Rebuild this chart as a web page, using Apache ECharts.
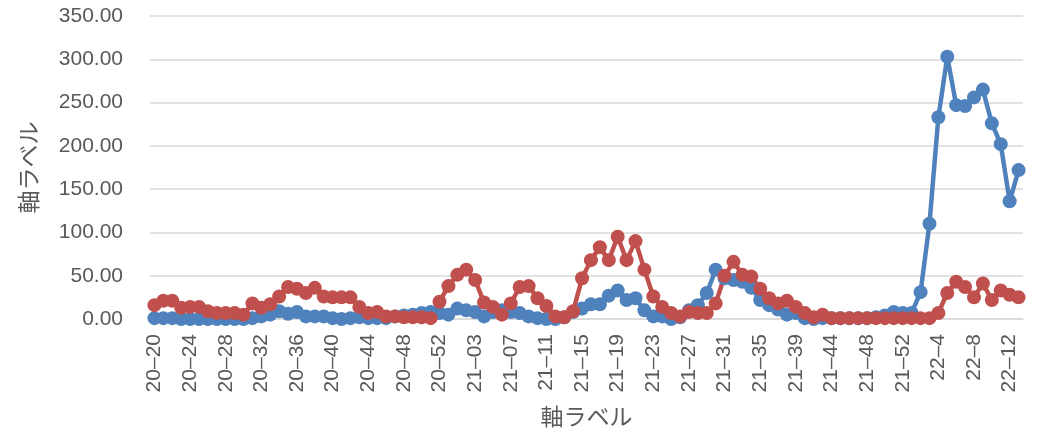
<!DOCTYPE html>
<html>
<head>
<meta charset="utf-8">
<script src="https://cdn.jsdelivr.net/npm/echarts@6/dist/echarts.min.js"></script>
<style>
html,body{margin:0;padding:0;background:#fff;}
#chart{width:1043px;height:437px;}
</style>
</head>
<body>
<div id="chart"></div>
<script>
const categories = [
  "20–20","20–21","20–22","20–23","20–24","20–25","20–26","20–27","20–28","20–29",
  "20–30","20–31","20–32","20–33","20–34","20–35","20–36","20–37","20–38","20–39",
  "20–40","20–41","20–42","20–43","20–44","20–45","20–46","20–47","20–48","20–49",
  "20–50","20–51","20–52","20–53",
  "21–01","21–02","21–03","21–04","21–05","21–06","21–07","21–08","21–09","21–10",
  "21–11","21–12","21–13","21–14","21–15","21–16","21–17","21–18","21–19","21–20",
  "21–21","21–22","21–23","21–24","21–25","21–26","21–27","21–28","21–29","21–30",
  "21–31","21–32","21–33","21–34","21–35","21–36","21–37","21–38","21–39","21–40",
  "21–41","21–43","21–44","21–45","21–46","21–47","21–48","21–49","21–50","21–51",
  "21–52",
  "22–1","22–2","22–3","22–4","22–5","22–6","22–7","22–8","22–9","22–10",
  "22–11","22–12","22–13"
];
const seriesBlue = [
  1,1,1,0,0,0,0,0,0,0,
  0,1,3,5,9,6,8,3,3,3,
  1,0,1,2,1,1,1,3,4,5,
  7,8,7,5,12,10,8,3,8,10,
  8,7,3,1,0,0,2,8,12,17,
  17,27,33,22,24,10,3,3,0,2,
  10,16,30,57,47,45,43,36,22,16,
  11,5,7,1,0,1,1,1,1,1,
  1,2,4,8,7,7,31,110,233,303,
  247,246,256,265,226,202,136,172
];
const seriesRed = [
  16,21,21,13,14,14,9,7,7,7,
  5,18,13,17,26,37,35,30,36,26,
  25,25,25,14,7,8,3,3,2,2,
  2,1,20,38,51,57,45,19,14,5,
  18,37,38,24,15,3,2,9,47,68,
  83,68,95,68,90,57,26,14,7,3,
  8,7,7,18,50,66,51,49,35,24,
  18,21,14,7,2,5,1,1,1,1,
  1,1,1,1,1,1,1,1,7,30,
  43,37,25,41,22,33,28,25
];
const yTicks = { min: 0, max: 350, interval: 50 };
const axisName = "軸ラベル";

const chart = echarts.init(document.getElementById('chart'), null, {renderer:'canvas'});
const font = "'Liberation Sans', 'Noto Sans CJK JP', sans-serif";
chart.setOption({
  animation: false,
  backgroundColor: '#fff',
  grid: { left: 150, right: 20, top: 16, bottom: 118, containLabel: false },
  xAxis: {
    type: 'category',
    data: categories,
    boundaryGap: true,
    name: axisName,
    nameLocation: 'middle',
    nameGap: 88,
    nameTextStyle: { fontSize: 23, color: '#595959', fontFamily: font },
    axisLine: { show: true, lineStyle: { color: '#d9d9d9', width: 1.5 } },
    axisTick: { show: false },
    axisLabel: { interval: 3, rotate: 90, fontSize: 21, color: '#595959', fontFamily: font, margin: 15 }
  },
  yAxis: {
    type: 'value',
    min: yTicks.min, max: yTicks.max, interval: yTicks.interval,
    name: axisName,
    nameLocation: 'middle',
    nameGap: 108,
    nameTextStyle: { fontSize: 23, color: '#595959', fontFamily: font },
    axisLine: { show: false },
    axisTick: { show: false },
    splitLine: { lineStyle: { color: '#d9d9d9', width: 1.5 } },
    axisLabel: { fontSize: 21, color: '#595959', fontFamily: font, margin: 27,
      formatter: v => v.toFixed(2) }
  },
  series: [
    { type: 'line', data: seriesBlue, symbol: 'circle', symbolSize: 14, showSymbol: true, showAllSymbol: true,
      lineStyle: { color: '#4F81BD', width: 4.5 }, itemStyle: { color: '#4F81BD' } },
    { type: 'line', data: seriesRed, symbol: 'circle', symbolSize: 14, showSymbol: true, showAllSymbol: true,
      lineStyle: { color: '#C0504D', width: 4.5 }, itemStyle: { color: '#C0504D' } }
  ]
});
</script>
</body>
</html>
